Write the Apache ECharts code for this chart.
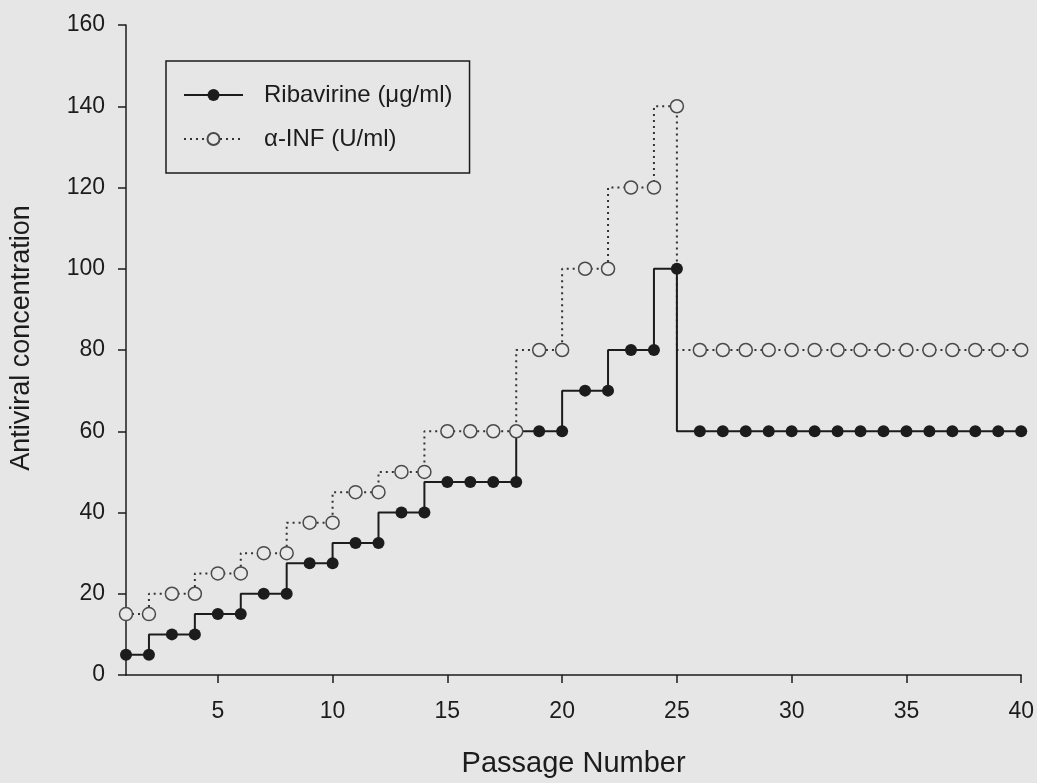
<!DOCTYPE html>
<html lang="en">
<head>
    <meta charset="utf-8">
    <title>Antiviral concentration</title>
    <script src="https://cdn.jsdelivr.net/npm/echarts@6/dist/echarts.min.js"></script>
    <style>
        body { margin: 0; background: #e6e6e6; }
    </style>
</head>
<body>
<div id="main" style="width: 1037px;height:783px;"></div>

<script>
    // passage 1..40
    let passage = [];
    for (let i = 1; i <= 40; i++) {
        passage.push(String(i));
    }
    let ribavirine = [5, 5, 10, 10, 15, 15, 20, 20, 27.5, 27.5,
        32.5, 32.5, 40, 40, 47.5, 47.5, 47.5, 47.5, 60, 60,
        70, 70, 80, 80, 100, 60, 60, 60, 60, 60,
        60, 60, 60, 60, 60, 60, 60, 60, 60, 60];
    let alphaInf = [15, 15, 20, 20, 25, 25, 30, 30, 37.5, 37.5,
        45, 45, 50, 50, 60, 60, 60, 60, 80, 80,
        100, 100, 120, 120, 140, 80, 80, 80, 80, 80,
        80, 80, 80, 80, 80, 80, 80, 80, 80, 80];
    let yTicks = [0, 20, 40, 60, 80, 100, 120, 140, 160];

    let ink = '#1c1c1c';
    let font = 'Liberation Sans, Arial, sans-serif';

    let myChart = echarts.init(document.getElementById('main'));
    let every5 = function (index, value) {
        return Number(value) % 5 === 0;
    };

    let option = {
        animation: false,
        backgroundColor: '#e6e6e6',
        textStyle: {fontFamily: font, color: ink},
        grid: {left: 124, right: 15, top: 25, bottom: 105},
        legend: {
            orient: 'vertical',
            left: 166,
            top: 61,
            padding: [21, 17, 21, 17],
            itemWidth: 59,
            itemHeight: 15,
            itemGap: 18,
            borderColor: ink,
            borderWidth: 1.5,
            borderRadius: 0,
            textStyle: {fontSize: 24, lineHeight: 26, color: ink, fontFamily: font, padding: [0, 0, 0, 16]},
            data: ['Ribavirine (μg/ml)', 'α-INF (U/ml)']
        },
        xAxis: {
            type: 'category',
            boundaryGap: false,
            data: passage,
            name: 'Passage Number',
            nameLocation: 'middle',
            nameGap: 74,
            nameTextStyle: {fontSize: 29, color: ink},
            axisLine: {lineStyle: {color: ink, width: 1.5}},
            axisTick: {show: true, length: 8, interval: every5, lineStyle: {color: ink, width: 1.5}},
            axisLabel: {fontSize: 23, color: ink, margin: 25, interval: every5},
            splitLine: {show: false}
        },
        yAxis: {
            type: 'value',
            min: yTicks[0],
            max: yTicks[yTicks.length - 1],
            interval: 20,
            name: 'Antiviral concentration',
            nameLocation: 'middle',
            nameGap: 91,
            nameTextStyle: {fontSize: 27, color: ink, padding: [0, 0, 0, 24]},
            axisLine: {show: true, lineStyle: {color: ink, width: 1.5}},
            axisTick: {show: true, length: 8, lineStyle: {color: ink, width: 1.5}},
            axisLabel: {fontSize: 23, color: ink, margin: 21},
            splitLine: {show: false}
        },
        series: [
            {
                name: 'α-INF (U/ml)',
                type: 'line',
                step: 'start',
                data: alphaInf,
                symbol: 'circle',
                symbolSize: 13,
                lineStyle: {color: '#333', width: 2, type: [2, 4]},
                itemStyle: {color: '#e8e8e8', borderColor: '#4a4a4a', borderWidth: 1.5}
            },
            {
                name: 'Ribavirine (μg/ml)',
                type: 'line',
                step: 'start',
                data: ribavirine,
                symbol: 'circle',
                symbolSize: 12,
                lineStyle: {color: ink, width: 2},
                itemStyle: {color: ink}
            }
        ]
    };
    myChart.setOption(option);
</script>
</body>
</html>
